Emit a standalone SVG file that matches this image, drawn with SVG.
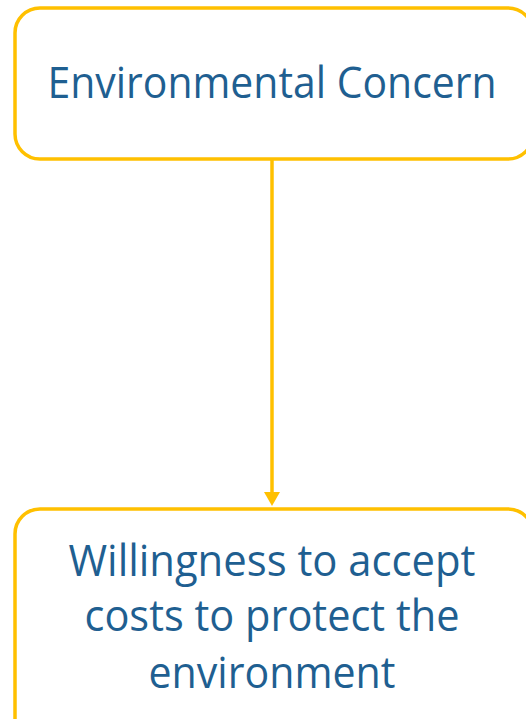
<svg xmlns="http://www.w3.org/2000/svg" width="526" height="719" viewBox="0 0 526 719">
<style>
.box{fill:#fff;stroke:#FFC000;stroke-width:3.5}
.lbl{font-family:"Open Sans","Liberation Sans",sans-serif;font-size:44px;fill:#1F5F91;text-anchor:middle}
.conn{stroke:#FFC000;stroke-width:3.5;fill:none}
.head{fill:#FFC000}
</style>
<rect width="526" height="719" fill="#fff"/>
<g id="connectors">
<line class="conn" x1="272" y1="159" x2="272" y2="493"/>
<path class="head" d="M264,492 L280,492 L272,506 Z"/>
</g>
<g id="node-concern">
<rect class="box" x="15" y="8" width="518" height="151" rx="25"/>
<text class="lbl" x="272" y="98" textLength="449" lengthAdjust="spacingAndGlyphs">Environmental Concern</text>
</g>
<g id="node-willingness">
<rect class="box" x="15" y="509" width="518" height="240" rx="25"/>
<text class="lbl" x="272" y="576" textLength="407" lengthAdjust="spacingAndGlyphs">Willingness to accept</text>
<text class="lbl" x="272" y="631" textLength="375" lengthAdjust="spacingAndGlyphs">costs to protect the</text>
<text class="lbl" x="272" y="688" textLength="247" lengthAdjust="spacingAndGlyphs">environment</text>
</g>
</svg>
